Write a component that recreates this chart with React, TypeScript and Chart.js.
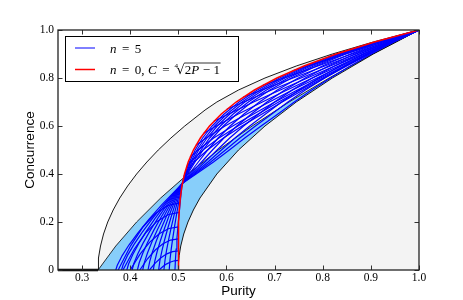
import React, { useEffect, useRef } from 'react';
import { Chart, registerables } from 'chart.js';

Chart.register(...registerables);

// ---- axis ticks ----
const X_TICKS = [0.3, 0.4, 0.5, 0.6, 0.7, 0.8, 0.9, 1.0];
const X_TICK_LABELS = ['0.3', '0.4', '0.5', '0.6', '0.7', '0.8', '0.9', '1.0'];
const Y_TICKS = [0, 0.2, 0.4, 0.6, 0.8, 1.0];
const Y_TICK_LABELS = ['0', '0.2', '0.4', '0.6', '0.8', '1.0'];

// ---- upper black boundary (purity, concurrence) ----
const memsC = [0, 0.02, 0.05, 0.1, 0.15, 0.2, 0.25, 0.3, 0.35, 0.4, 0.45, 0.5, 0.55, 0.6, 0.6667, 0.7, 0.75, 0.8, 0.85, 0.9, 0.95, 1.0];
const memsP = [0.3333, 0.3335, 0.3346, 0.3383, 0.3446, 0.3533, 0.3646, 0.3783, 0.3946, 0.4133, 0.4346, 0.4583, 0.4846, 0.5133, 0.5556, 0.58, 0.625, 0.68, 0.745, 0.82, 0.905, 1.0];

// ---- zero-concurrence segment ----
const zeroP = [0.25, 0.3333];
const zeroC = [0, 0];

// ---- black line bounding the light blue band (left/upper) ----
const wernerC = [0, 0.1, 0.2, 0.3, 0.4, 0.5, 0.6, 0.7, 0.8, 0.9, 1.0];
const wernerP = [0.3333, 0.37, 0.4133, 0.4633, 0.52, 0.5833, 0.6533, 0.73, 0.8133, 0.9033, 1.0];

// ---- lower black curve ----
const lowerC = [0, 0.03, 0.06, 0.1, 0.15, 0.2, 0.25, 0.3, 0.4, 0.5, 0.6, 0.7, 0.8, 0.9, 1.0];
const lowerP = [0.5, 0.50045, 0.5018, 0.505, 0.51125, 0.52, 0.53125, 0.545, 0.58, 0.625, 0.68, 0.745, 0.82, 0.905, 1.0];

// ---- red curve n = 0 ----
const redC = [0, 0.1, 0.2, 0.25, 0.3, 0.35, 0.4, 0.45, 0.5, 0.55, 0.6, 0.65, 0.7, 0.75, 0.8, 0.85, 0.9, 0.95, 1.0];
const redP = [0.5, 0.50005, 0.5008, 0.50195, 0.50405, 0.5075, 0.5128, 0.5205, 0.53125, 0.5458, 0.5648, 0.5893, 0.62005, 0.6582, 0.7048, 0.761, 0.8281, 0.9073, 1.0];

// ---- n = 5 mesh, lower part: curves from C = 0 up to the meeting point ----
const lowerFanP = [
  [0.37, 0.3732, 0.3834, 0.3977, 0.4161, 0.4384, 0.4649, 0.508],
  [0.382, 0.3853, 0.3947, 0.408, 0.4248, 0.4453, 0.4696, 0.508],
  [0.393, 0.3966, 0.4054, 0.4176, 0.433, 0.4514, 0.4736, 0.508],
  [0.404, 0.4076, 0.4156, 0.4268, 0.4408, 0.4576, 0.4776, 0.508],
  [0.415, 0.4187, 0.4261, 0.4361, 0.4488, 0.4635, 0.4814, 0.508],
  [0.426, 0.4295, 0.4361, 0.445, 0.4562, 0.4692, 0.4851, 0.508],
  [0.437, 0.4405, 0.4462, 0.454, 0.4638, 0.4748, 0.4887, 0.508],
  [0.448, 0.4511, 0.456, 0.4627, 0.471, 0.4803, 0.492, 0.508],
  [0.459, 0.4618, 0.4659, 0.4714, 0.4782, 0.4858, 0.4953, 0.508],
  [0.47, 0.4724, 0.4755, 0.4798, 0.4851, 0.491, 0.4984, 0.508],
  [0.481, 0.4828, 0.4851, 0.4882, 0.492, 0.4961, 0.5014, 0.508],
  [0.493, 0.4941, 0.4954, 0.4971, 0.4992, 0.5015, 0.5044, 0.508],
];
const lowerFanC = [
  [0, 0.02, 0.06, 0.105, 0.155, 0.21, 0.27, 0.36],
  [0, 0.022, 0.062, 0.107, 0.157, 0.212, 0.272, 0.36],
  [0, 0.025, 0.065, 0.11, 0.16, 0.214, 0.274, 0.36],
  [0, 0.027, 0.067, 0.112, 0.162, 0.216, 0.276, 0.36],
  [0, 0.03, 0.07, 0.115, 0.165, 0.218, 0.278, 0.36],
  [0, 0.032, 0.072, 0.117, 0.167, 0.22, 0.28, 0.36],
  [0, 0.035, 0.075, 0.12, 0.17, 0.222, 0.282, 0.36],
  [0, 0.037, 0.077, 0.122, 0.172, 0.224, 0.284, 0.36],
  [0, 0.04, 0.08, 0.125, 0.175, 0.226, 0.286, 0.36],
  [0, 0.042, 0.082, 0.127, 0.177, 0.228, 0.288, 0.36],
  [0, 0.045, 0.085, 0.13, 0.18, 0.23, 0.29, 0.36],
  [0, 0.047, 0.087, 0.132, 0.182, 0.232, 0.292, 0.36],
];

// ---- n = 5 mesh, lower part: curves rising from C = 0 to the red curve ----
const lowerCrossP = [
  [0.46, 0.468, 0.476, 0.484, 0.492, 0.5],
  [0.44, 0.452, 0.464, 0.476, 0.488, 0.5],
  [0.42, 0.436, 0.452, 0.468, 0.484, 0.5],
  [0.4, 0.4201, 0.4402, 0.4603, 0.4804, 0.5005],
  [0.385, 0.4083, 0.4317, 0.455, 0.4784, 0.5017],
  [0.375, 0.4008, 0.4266, 0.4524, 0.4782, 0.5031],
];
const lowerCrossC = [
  [0, 0.0144, 0.0256, 0.0336, 0.0384, 0.04],
  [0, 0.0288, 0.0512, 0.0672, 0.0768, 0.08],
  [0, 0.0468, 0.0832, 0.1092, 0.1248, 0.13],
  [0, 0.0648, 0.1152, 0.1512, 0.1728, 0.18],
  [0, 0.0864, 0.1536, 0.2016, 0.2304, 0.24],
  [0, 0.1008, 0.1792, 0.2352, 0.2688, 0.28],
];

// ---- n = 5 mesh, upper part: fan from the meeting point to (1, 1) ----
const upperFanC = [0.36, 0.4, 0.45, 0.5, 0.55, 0.6, 0.65, 0.7, 0.75, 0.8, 0.85, 0.9, 0.95, 1.0];
const upperFanP = [
  [0.508, 0.514, 0.5231, 0.535, 0.5504, 0.5702, 0.5952, 0.6262, 0.6641, 0.7104, 0.7658, 0.8317, 0.9093, 1],
  [0.508, 0.5152, 0.5258, 0.5388, 0.555, 0.5755, 0.6011, 0.6322, 0.6701, 0.7159, 0.7706, 0.8354, 0.9114, 1],
  [0.508, 0.5164, 0.5284, 0.5425, 0.5596, 0.5809, 0.607, 0.6383, 0.676, 0.7215, 0.7754, 0.839, 0.9134, 1],
  [0.508, 0.5179, 0.5315, 0.547, 0.5652, 0.5873, 0.614, 0.6455, 0.6831, 0.7282, 0.7812, 0.8434, 0.9158, 1],
  [0.508, 0.5193, 0.5347, 0.5515, 0.5707, 0.5937, 0.6211, 0.6528, 0.6903, 0.7348, 0.7869, 0.8478, 0.9183, 1],
  [0.508, 0.5225, 0.5415, 0.5612, 0.5827, 0.6077, 0.6364, 0.6685, 0.7057, 0.7493, 0.7994, 0.8573, 0.9236, 1],
  [0.508, 0.5256, 0.5483, 0.5709, 0.5947, 0.6216, 0.6517, 0.6842, 0.7212, 0.7637, 0.8119, 0.8667, 0.9289, 1],
  [0.508, 0.5288, 0.5552, 0.5807, 0.6067, 0.6356, 0.667, 0.7, 0.7366, 0.7782, 0.8244, 0.8762, 0.9342, 1],
  [0.508, 0.5317, 0.5615, 0.5896, 0.6177, 0.6484, 0.6811, 0.7145, 0.7509, 0.7915, 0.8359, 0.885, 0.939, 1],
  [0.508, 0.5343, 0.5672, 0.5979, 0.6279, 0.6602, 0.6941, 0.7278, 0.7639, 0.8038, 0.8464, 0.893, 0.9435, 1],
  [0.508, 0.537, 0.573, 0.606, 0.638, 0.672, 0.707, 0.741, 0.777, 0.816, 0.857, 0.901, 0.948, 1],
];

// ---- n = 5 mesh, upper part: curves leaving the red curve ----
const crossP = [
  [0.5116, 0.5139, 0.5328, 0.5605, 0.5937, 0.6323, 0.674, 0.7157, 0.7592, 0.8043, 0.8498, 0.8974, 0.9468, 1],
  [0.5171, 0.5252, 0.5511, 0.5845, 0.6238, 0.6658, 0.7084, 0.7532, 0.8004, 0.8474, 0.8959, 0.9464, 1],
  [0.5244, 0.541, 0.5735, 0.613, 0.6564, 0.7006, 0.7473, 0.7954, 0.8445, 0.8944, 0.9456, 1],
  [0.5366, 0.5578, 0.597, 0.6423, 0.6891, 0.7372, 0.7882, 0.8392, 0.8915, 0.9443, 1],
  [0.5528, 0.5787, 0.6246, 0.6746, 0.7259, 0.7787, 0.833, 0.8875, 0.9427, 1],
  [0.5739, 0.6046, 0.6564, 0.7117, 0.7682, 0.8248, 0.8828, 0.9405, 1],
  [0.6008, 0.6358, 0.6938, 0.7548, 0.8157, 0.8766, 0.9378, 1],
  [0.6344, 0.6736, 0.7382, 0.8042, 0.8697, 0.9344, 1],
  [0.6758, 0.7193, 0.7898, 0.8609, 0.9305, 1],
  [0.7373, 0.7696, 0.8474, 0.9244, 1],
  [0.8137, 0.8314, 0.9169, 1],
];
const crossC = [
  [0.39, 0.4, 0.45, 0.5, 0.55, 0.6, 0.65, 0.7, 0.75, 0.8, 0.85, 0.9, 0.95, 1],
  [0.43, 0.45, 0.5, 0.55, 0.6, 0.65, 0.7, 0.75, 0.8, 0.85, 0.9, 0.95, 1],
  [0.47, 0.5, 0.55, 0.6, 0.65, 0.7, 0.75, 0.8, 0.85, 0.9, 0.95, 1],
  [0.52, 0.55, 0.6, 0.65, 0.7, 0.75, 0.8, 0.85, 0.9, 0.95, 1],
  [0.57, 0.6, 0.65, 0.7, 0.75, 0.8, 0.85, 0.9, 0.95, 1],
  [0.62, 0.65, 0.7, 0.75, 0.8, 0.85, 0.9, 0.95, 1],
  [0.67, 0.7, 0.75, 0.8, 0.85, 0.9, 0.95, 1],
  [0.72, 0.75, 0.8, 0.85, 0.9, 0.95, 1],
  [0.77, 0.8, 0.85, 0.9, 0.95, 1],
  [0.83, 0.85, 0.9, 0.95, 1],
  [0.89, 0.9, 0.95, 1],
];

const LEGEND_LABELS = ['n = 5', 'n = 0, C = 4√2P − 1'];

const BLUE = '#0000ff';
const RED = '#ff0000';
const LIGHT_BLUE = '#87cefa';
const GRAY = '#f3f3f3';

const pts = (ps: number[], cs: number[]) => ps.map((p, i) => ({ x: p, y: cs[i] }));

function lineDs(data: any[], color: string, width: number, order: number, extra: any = {}) {
  return {
    data,
    showLine: true,
    borderColor: color,
    borderWidth: width,
    pointRadius: 0,
    pointHoverRadius: 0,
    fill: false,
    tension: 0,
    order,
    ...extra,
  };
}

type Run = { t?: string; it?: boolean; gap?: number; sqrtEnd?: boolean; index?: string };

const SERIF = '"Liberation Serif", "Times New Roman", "DejaVu Serif", serif';

function drawRuns(ctx: CanvasRenderingContext2D, x0: number, base: number, runs: Run[], size: number) {
  let x = x0;
  let ovStart = 0;
  let ovY = 0;
  ctx.textBaseline = 'alphabetic';
  ctx.textAlign = 'left';
  for (const r of runs) {
    if (r.gap) { x += r.gap; continue; }
    if (r.index) {
      ctx.font = `${size * 0.55}px ${SERIF}`;
      ctx.fillText(r.index, x, base - size * 0.42);
      x += ctx.measureText(r.index).width * 0.55;
      ctx.font = `${size}px "DejaVu Serif"`;
      const m = ctx.measureText('√');
      ctx.fillText('√', x, base);
      ovY = base - m.actualBoundingBoxAscent + 0.5;
      x += m.width;
      ovStart = x - 0.6;
      continue;
    }
    if (r.sqrtEnd) {
      ctx.save();
      ctx.lineWidth = 0.8;
      ctx.beginPath();
      ctx.moveTo(ovStart, ovY);
      ctx.lineTo(x + 0.5, ovY);
      ctx.stroke();
      ctx.restore();
      continue;
    }
    if (r.t) {
      ctx.font = `${r.it ? 'italic ' : ''}${size}px ${SERIF}`;
      ctx.fillText(r.t, x, base);
      x += ctx.measureText(r.t).width;
    }
  }
}

function drawLegend(ctx: CanvasRenderingContext2D) {
  const bx = 65.5, by = 36.5, bw = 173, bh = 45;
  ctx.save();
  ctx.fillStyle = '#ffffff';
  ctx.fillRect(bx, by, bw, bh);
  ctx.strokeStyle = '#000';
  ctx.lineWidth = 1;
  ctx.strokeRect(bx, by, bw, bh);
  ctx.beginPath();
  ctx.strokeStyle = BLUE;
  ctx.lineWidth = 1;
  ctx.moveTo(75, 48);
  ctx.lineTo(95, 48);
  ctx.stroke();
  ctx.beginPath();
  ctx.strokeStyle = RED;
  ctx.lineWidth = 1.5;
  ctx.moveTo(75, 69.5);
  ctx.lineTo(95, 69.5);
  ctx.stroke();
  ctx.fillStyle = '#000';
  ctx.strokeStyle = '#000';
  const size = 13;
  // LEGEND_LABELS[0]
  drawRuns(ctx, 110, 52.5, [
    { t: 'n', it: true }, { gap: 5.5 }, { t: '=' }, { gap: 5.5 }, { t: '5' },
  ], size);
  // LEGEND_LABELS[1]
  drawRuns(ctx, 110, 73.5, [
    { t: 'n', it: true }, { gap: 5.5 }, { t: '=' }, { gap: 5.5 }, { t: '0,' }, { gap: 3.5 },
    { t: 'C', it: true }, { gap: 5.5 }, { t: '=' }, { gap: 5 },
    { index: '4' }, { t: '2' }, { t: 'P', it: true }, { gap: 3.5 }, { t: '−' }, { gap: 3.5 }, { t: '1' },
    { sqrtEnd: true },
  ], size);
  ctx.restore();
}

const framePlugin = {
  id: 'framePlugin',
  afterDraw(chart: any) {
    const { ctx, chartArea: a, scales } = chart;
    ctx.save();
    ctx.strokeStyle = '#333';
    ctx.lineWidth = 1;
    ctx.beginPath();
    X_TICKS.forEach((v) => {
      const x = Math.round(scales.x.getPixelForValue(v)) + 0.5;
      ctx.moveTo(x, a.bottom);
      ctx.lineTo(x, a.bottom - 4.5);
      ctx.moveTo(x, a.top);
      ctx.lineTo(x, a.top + 4.5);
    });
    Y_TICKS.forEach((v) => {
      const y = Math.round(scales.y.getPixelForValue(v)) + 0.5;
      ctx.moveTo(a.left, y);
      ctx.lineTo(a.left + 4.5, y);
      ctx.moveTo(a.right, y);
      ctx.lineTo(a.right - 4.5, y);
    });
    ctx.stroke();
    ctx.strokeStyle = '#222';
    ctx.lineWidth = 1.3;
    ctx.strokeRect(a.left, a.top, a.right - a.left, a.bottom - a.top);
    drawLegend(ctx);
    ctx.restore();
  },
};

export default function App() {
  const ref = useRef<HTMLCanvasElement>(null);

  useEffect(() => {
    const canvas = ref.current;
    if (!canvas) return;

    const MESH_W = 1.2;
    const datasets: any[] = [];
    // red n = 0 curve, on top
    datasets.push(lineDs(pts(redP, redC), RED, 1.5, 0, { label: LEGEND_LABELS[1] }));
    // n = 5 mesh
    lowerFanP.forEach((ps, k) => datasets.push(lineDs(pts(ps, lowerFanC[k]), BLUE, MESH_W, 1)));
    lowerCrossP.forEach((ps, k) => datasets.push(lineDs(pts(ps, lowerCrossC[k]), BLUE, MESH_W, 1)));
    upperFanP.forEach((ps) => datasets.push(lineDs(pts(ps, upperFanC), BLUE, MESH_W, 1)));
    crossP.forEach((ps, k) => datasets.push(lineDs(pts(ps, crossC[k]), BLUE, MESH_W, 1)));
    // black curves
    datasets.push(lineDs(pts(memsP, memsC), '#000', 0.9, 2));
    datasets.push(lineDs(pts(wernerP, wernerC), '#000', 0.8, 2));
    datasets.push(lineDs(pts(lowerP, lowerC), '#000', 0.9, 2));
    datasets.push(lineDs(pts(zeroP, zeroC), '#000', 2.5, 2, { clip: false }));
    // light blue band
    datasets.push(lineDs([...pts(wernerP, wernerC), ...pts(lowerP, lowerC).reverse()], 'rgba(0,0,0,0)', 0, 3, {
      fill: 'shape', backgroundColor: LIGHT_BLUE,
    }));
    // gray region below the upper boundary
    datasets.push(lineDs([...pts(memsP, memsC), { x: 1, y: 0 }], 'rgba(0,0,0,0)', 0, 4, {
      fill: 'shape', backgroundColor: GRAY,
    }));

    const tickFont = { family: SERIF, size: 11.5 };
    const titleFont = { family: '"Liberation Sans", Arial, sans-serif', size: 13.5 };

    const chart = new Chart(canvas, {
      type: 'scatter',
      data: { datasets },
      options: {
        animation: false,
        responsive: false,
        devicePixelRatio: 1,
        events: [],
        layout: { padding: { left: 0, top: 30, right: 44, bottom: 0 } },
        plugins: {
          legend: { display: false },
          tooltip: { enabled: false },
        },
        scales: {
          x: {
            type: 'linear',
            min: 0.25,
            max: 1.0,
            afterBuildTicks: (s: any) => { s.ticks = X_TICKS.map((v) => ({ value: v })); },
            afterFit: (s: any) => { s.height = 30; },
            grid: { display: false, drawTicks: false },
            border: { display: false },
            ticks: {
              padding: 1,
              autoSkip: false,
              maxRotation: 0,
              color: '#000',
              font: tickFont,
              callback: (_v: any, i: number) => X_TICK_LABELS[i],
            },
            title: { display: true, text: 'Purity', color: '#000', font: titleFont, padding: { top: 0, bottom: 1 } },
          },
          y: {
            type: 'linear',
            min: 0,
            max: 1.0,
            afterBuildTicks: (s: any) => { s.ticks = Y_TICKS.map((v) => ({ value: v })); },
            afterFit: (s: any) => { s.width = 58; },
            grid: { display: false, drawTicks: false },
            border: { display: false },
            ticks: {
              padding: 4,
              autoSkip: false,
              color: '#000',
              font: tickFont,
              callback: (_v: any, i: number) => Y_TICK_LABELS[i],
            },
            title: { display: true, text: 'Concurrence', color: '#000', font: titleFont, padding: { top: 22, bottom: 0 } },
          },
        },
      } as any,
      plugins: [framePlugin],
    });

    return () => chart.destroy();
  }, []);

  return (
    <div style={{ position: 'fixed', left: 0, top: 0, width: 463, height: 300, background: '#fff' }}>
      <canvas ref={ref} width={463} height={300} style={{ display: 'block', width: 463, height: 300 }} />
    </div>
  );
}
